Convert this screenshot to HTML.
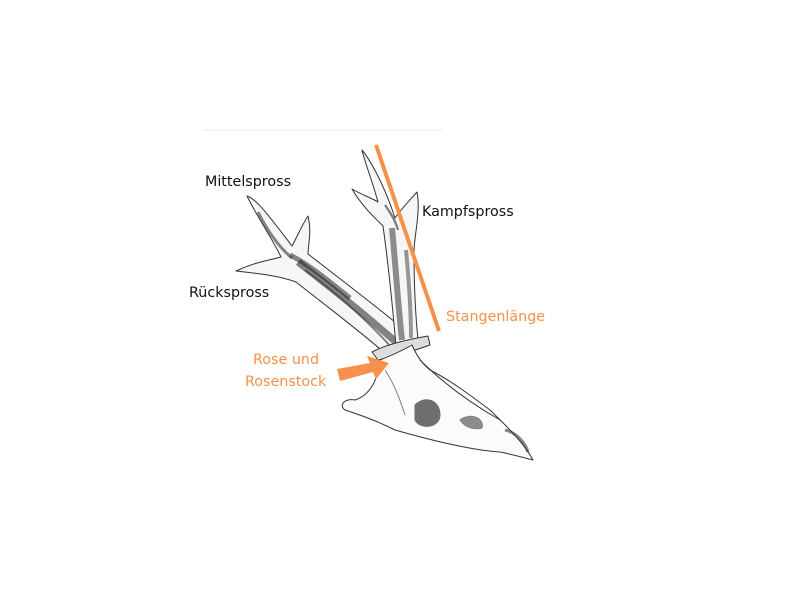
<!DOCTYPE html>
<html><head><meta charset="utf-8"><style>
html,body{margin:0;padding:0;background:#fff;width:800px;height:600px;overflow:hidden}
svg{position:absolute;left:0;top:0}
text{font-family:"DejaVu Sans","Liberation Sans",sans-serif;font-size:14.3px}
</style></head><body>
<svg width="800" height="600" viewBox="0 0 800 600">
<line x1="203" y1="130" x2="443" y2="130" stroke="#f2f2f2" stroke-width="1.5"/>
<g fill="none" stroke="#333" stroke-width="1" stroke-linejoin="round">
<path d="M388,356 C365,335 325,305 296,282 C280,276 262,274 236,271 C255,262 270,260 281,257 C272,238 256,215 247,196 C256,198 272,220 292,246 C298,235 302,225 308,216 C312,232 308,245 308,254 C335,275 375,305 412,336 Z" fill="#f6f6f6"/>
<path d="M298,262 C330,287 362,312 396,342" stroke="#222" stroke-width="7" opacity=".55"/>
<path d="M305,270 C335,292 365,318 392,348" stroke="#333" stroke-width="2" opacity=".6"/>
<path d="M290,255 C310,265 330,282 350,298" stroke="#111" stroke-width="5" opacity=".5"/>
<path d="M258,212 C268,232 280,248 292,258" stroke="#333" stroke-width="3" opacity=".6"/>
<path d="M396,346 C392,300 388,262 383,226 C373,216 362,206 352,189 C362,195 372,198 378,202 C372,180 364,160 362,150 C372,162 386,190 395,218 C402,208 410,200 417,192 C421,212 414,236 414,252 C414,290 416,320 418,340 Z" fill="#f6f6f6"/>
<path d="M392,228 C396,270 398,305 402,340" stroke="#222" stroke-width="6" opacity=".5"/>
<path d="M406,250 C409,282 411,312 411,338" stroke="#222" stroke-width="4" opacity=".45"/>
<path d="M385,205 C392,215 396,222 398,230" stroke="#222" stroke-width="2" opacity=".6"/>
<path d="M372,352 C385,345 405,340 428,336 L430,345 C410,352 392,358 378,360 Z" fill="#ddd"/>
<path d="M380,360 C378,380 370,395 355,400 C345,398 338,405 345,410 C360,415 375,420 395,430 C430,440 470,450 500,452 C515,455 525,458 533,460 C522,440 505,425 490,410 C470,395 450,380 430,370 C420,362 415,352 412,345 C400,352 390,356 380,360 Z" fill="#fbfbfb"/>
<path d="M415,405 C425,395 440,400 440,415 C440,428 420,430 415,420 Z" fill="#333" opacity=".7"/>
<path d="M460,420 C470,412 485,418 482,428 C475,430 465,428 460,420 Z" fill="#444" opacity=".6"/>
<path d="M505,430 C515,432 525,442 528,452" stroke-width="3" opacity=".6"/>
<path d="M385,370 C395,385 400,400 405,415" opacity=".6"/>
<path d="M420,360 C440,380 465,400 500,420"/>
</g>
<line x1="376" y1="145" x2="439" y2="331" stroke="#f7904a" stroke-width="4"/>
<polygon points="337,369 370,363 367,356 389,363 376,379 373,372 340,381" fill="#f7904a"/>
<text x="205" y="186" fill="#111">Mittelspross</text>
<text x="189" y="297" fill="#111">Rückspross</text>
<text x="422" y="216" fill="#111">Kampfspross</text>
<text x="446" y="321" fill="#f7904a">Stangenlänge</text>
<text x="253" y="364" fill="#f7904a">Rose und</text>
<text x="245" y="386" fill="#f7904a">Rosenstock</text>
</svg>
</body></html>
